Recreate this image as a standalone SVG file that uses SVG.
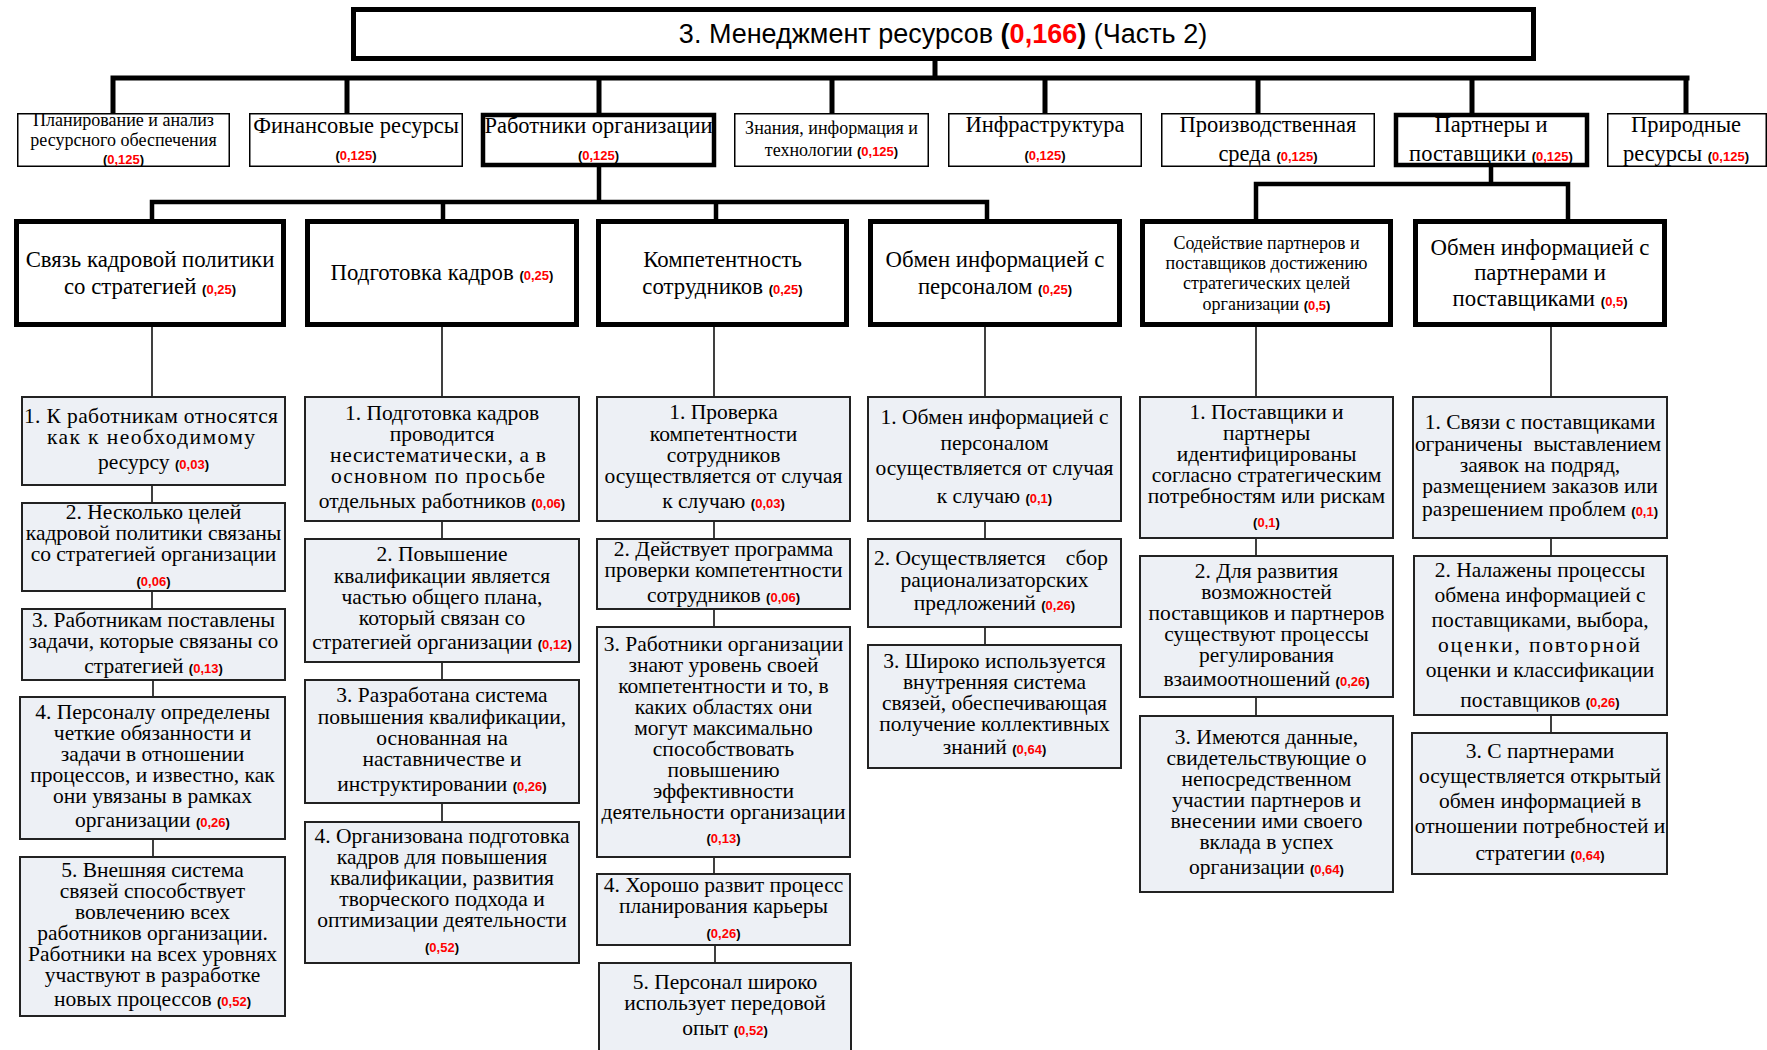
<svg xmlns="http://www.w3.org/2000/svg" width="1767" height="1050" viewBox="0 0 1767 1050">
<style>
.bg{fill:#fff}
.tb{fill:#fff;stroke:#000;stroke-width:5}
.b2{fill:#fff;stroke:#000;stroke-width:1.5}
.b2t{fill:#fff;stroke:#000;stroke-width:4.5}
.b3{fill:#fff;stroke:#000;stroke-width:5}
.b4{fill:#edf0f5;stroke:#222;stroke-width:2}
.ck{stroke:#000;stroke-width:5;fill:none;stroke-linecap:square}
.cm{stroke:#000;stroke-width:4.5;fill:none;stroke-linecap:square}
.cs{stroke:#111;stroke-width:1.6;fill:none}
text{font-family:"Liberation Serif","Times New Roman",serif;fill:#000;text-anchor:middle}
.title{font-family:"Liberation Sans",Arial,sans-serif;font-size:27px}
.t2{font-size:22.5px}
.t2s{font-size:18px}
.t2m{font-size:18px}
.t3{font-size:22.8px}
.t3s{font-size:18px}
.t4{font-size:21.5px}
.n{font-family:"Liberation Sans",Arial,sans-serif;font-weight:bold;font-size:13px;fill:#000}
.r{fill:#ff0000}
.nt{font-family:"Liberation Sans",Arial,sans-serif;font-weight:bold;fill:#000}
</style>
<rect class="bg" x="0" y="0" width="1767" height="1050"/>

<g id="connectors">
  <path class="ck" d="M935 59 V78 M113 78 H1687 M113 78 V113 M347 78 V113 M599 78 V113 M832 78 V113 M1045 78 V113 M1258 78 V113 M1472 78 V113 M1686 78 V113"/>
  <path class="cm" d="M599 167 V202 M152 202 H987 M152 202 V219 M443 202 V219 M716 202 V219 M987 202 V219"/>
  <path class="cm" d="M1491 167 V184 M1256 184 H1568 M1256 184 V219 M1568 184 V219"/>
  <path class="cs" d="M152 327 V397 M152 485 V503 M152 591 V609 M153 680 V697 M153 839 V857"/>
  <path class="cs" d="M442 327 V397 M442 521 V539 M442 662 V680 M442 803 V822"/>
  <path class="cs" d="M714 327 V397 M714 521 V539 M714 609 V627 M714 857 V874 M715 945 V963"/>
  <path class="cs" d="M985 327 V397 M985 521 V539 M985 627 V645"/>
  <path class="cs" d="M1256 327 V397 M1256 538 V556 M1256 697 V716"/>
  <path class="cs" d="M1551 327 V397 M1551 538 V556 M1551 715 V733"/>
</g>

<g id="title">
  <rect class="tb" x="353.5" y="9.5" width="1180" height="49"/>
  <text class="title" x="943" y="43">3. Менеджмент ресурсов <tspan class="nt">(<tspan class="r">0,166</tspan>)</tspan> (Часть 2)</text>
</g>

<!-- Level 2 -->
<g id="l2-planning">
  <rect class="b2" x="17.75" y="113.75" width="211.5" height="52.5"/>
  <text class="t2s" x="123.5" y="126">Планирование и анализ</text>
  <text class="t2s" x="123.5" y="146">ресурсного обеспечения</text>
  <text class="n" x="123.5" y="164">(<tspan class="r">0,125</tspan>)</text>
</g>
<g id="l2-finance">
  <rect class="b2" x="249.75" y="113.75" width="212.5" height="52.5"/>
  <text class="t2" x="356" y="133">Финансовые ресурсы</text>
  <text class="n" x="356" y="160">(<tspan class="r">0,125</tspan>)</text>
</g>
<g id="l2-workers">
  <rect class="b2t" x="483" y="115" width="231" height="50"/>
  <text class="t2" x="598.5" y="133">Работники организации</text>
  <text class="n" x="598.5" y="160">(<tspan class="r">0,125</tspan>)</text>
</g>
<g id="l2-knowledge">
  <rect class="b2" x="734.75" y="113.75" width="193.5" height="52.5"/>
  <text class="t2m" x="831.5" y="134">Знания, информация и</text>
  <text class="t2m" x="831.5" y="156">технологии <tspan class="n">(<tspan class="r">0,125</tspan>)</tspan></text>
</g>
<g id="l2-infra">
  <rect class="b2" x="948.75" y="113.75" width="192.5" height="52.5"/>
  <text class="t2" x="1045" y="132">Инфраструктура</text>
  <text class="n" x="1045" y="160">(<tspan class="r">0,125</tspan>)</text>
</g>
<g id="l2-production">
  <rect class="b2" x="1161.75" y="113.75" width="212.5" height="52.5"/>
  <text class="t2" x="1268" y="132">Производственная</text>
  <text class="t2" x="1268" y="161">среда <tspan class="n">(<tspan class="r">0,125</tspan>)</tspan></text>
</g>
<g id="l2-partners">
  <rect class="b2t" x="1396" y="115" width="191" height="50"/>
  <text class="t2" x="1491" y="132">Партнеры и</text>
  <text class="t2" x="1491" y="161">поставщики <tspan class="n">(<tspan class="r">0,125</tspan>)</tspan></text>
</g>
<g id="l2-nature">
  <rect class="b2" x="1607.75" y="113.75" width="158.5" height="52.5"/>
  <text class="t2" x="1686" y="132">Природные</text>
  <text class="t2" x="1686" y="161">ресурсы <tspan class="n">(<tspan class="r">0,125</tspan>)</tspan></text>
</g>

<!-- Level 3 -->
<g id="l3-policy">
  <rect class="b3" x="16.5" y="221.5" width="267" height="103"/>
  <text class="t3" x="150" y="267">Связь кадровой политики</text>
  <text class="t3" x="150" y="294">со стратегией <tspan class="n">(<tspan class="r">0,25</tspan>)</tspan></text>
</g>
<g id="l3-training">
  <rect class="b3" x="307.5" y="221.5" width="269" height="103"/>
  <text class="t3" x="442" y="280">Подготовка кадров <tspan class="n">(<tspan class="r">0,25</tspan>)</tspan></text>
</g>
<g id="l3-competence">
  <rect class="b3" x="598.5" y="221.5" width="248" height="103"/>
  <text class="t3" x="722.5" y="267">Компетентность</text>
  <text class="t3" x="722.5" y="294">сотрудников <tspan class="n">(<tspan class="r">0,25</tspan>)</tspan></text>
</g>
<g id="l3-staffinfo">
  <rect class="b3" x="870.5" y="221.5" width="249" height="103"/>
  <text class="t3" x="995" y="267">Обмен информацией с</text>
  <text class="t3" x="995" y="294">персоналом <tspan class="n">(<tspan class="r">0,25</tspan>)</tspan></text>
</g>
<g id="l3-partnerassist">
  <rect class="b3" x="1142.5" y="221.5" width="248" height="103"/>
  <text class="t3s" x="1266.5" y="249">Содействие партнеров и</text>
  <text class="t3s" x="1266.5" y="269">поставщиков достижению</text>
  <text class="t3s" x="1266.5" y="289">стратегических целей</text>
  <text class="t3s" x="1266.5" y="310">организации <tspan class="n">(<tspan class="r">0,5</tspan>)</tspan></text>
</g>
<g id="l3-partnerinfo">
  <rect class="b3" x="1415.5" y="221.5" width="249" height="103"/>
  <text class="t3" x="1540" y="255">Обмен информацией с</text>
  <text class="t3" x="1540" y="280">партнерами и</text>
  <text class="t3" x="1540" y="306">поставщиками <tspan class="n">(<tspan class="r">0,5</tspan>)</tspan></text>
</g>

<!-- Column A -->
<g id="a1">
  <rect class="b4" x="22" y="397" width="263" height="88"/>
  <text class="t4" x="151" y="423" textLength="254">1. К работникам относятся</text>
  <text class="t4" x="151" y="444" textLength="208">как к необходимому</text>
  <text class="t4" x="153.5" y="469">ресурсу <tspan class="n">(<tspan class="r">0,03</tspan>)</tspan></text>
</g>
<g id="a2">
  <rect class="b4" x="22" y="503" width="263" height="88"/>
  <text class="t4" x="153.5" y="519">2. Несколько целей</text>
  <text class="t4" x="153.5" y="540">кадровой политики связаны</text>
  <text class="t4" x="153.5" y="561">со стратегией организации</text>
  <text class="n" x="153.5" y="586">(<tspan class="r">0,06</tspan>)</text>
</g>
<g id="a3">
  <rect class="b4" x="22" y="609" width="263" height="71"/>
  <text class="t4" x="153.5" y="627">3. Работникам поставлены</text>
  <text class="t4" x="153.5" y="648">задачи, которые связаны со</text>
  <text class="t4" x="153.5" y="673">стратегией <tspan class="n">(<tspan class="r">0,13</tspan>)</tspan></text>
</g>
<g id="a4">
  <rect class="b4" x="20" y="697" width="265" height="142"/>
  <text class="t4" x="152.5" y="719">4. Персоналу определены</text>
  <text class="t4" x="152.5" y="740">четкие обязанности и</text>
  <text class="t4" x="152.5" y="761">задачи в отношении</text>
  <text class="t4" x="152.5" y="782">процессов, и известно, как</text>
  <text class="t4" x="152.5" y="803">они увязаны в рамках</text>
  <text class="t4" x="152.5" y="827">организации <tspan class="n">(<tspan class="r">0,26</tspan>)</tspan></text>
</g>
<g id="a5">
  <rect class="b4" x="20" y="857" width="265" height="159"/>
  <text class="t4" x="152.5" y="877">5. Внешняя система</text>
  <text class="t4" x="152.5" y="898">связей способствует</text>
  <text class="t4" x="152.5" y="919">вовлечению всех</text>
  <text class="t4" x="152.5" y="940">работников организации.</text>
  <text class="t4" x="152.5" y="961">Работники на всех уровнях</text>
  <text class="t4" x="152.5" y="982">участвуют в разработке</text>
  <text class="t4" x="152.5" y="1006">новых процессов <tspan class="n">(<tspan class="r">0,52</tspan>)</tspan></text>
</g>

<!-- Column B -->
<g id="b1">
  <rect class="b4" x="305" y="397" width="274" height="124"/>
  <text class="t4" x="442" y="420">1. Подготовка кадров</text>
  <text class="t4" x="442" y="441">проводится</text>
  <text class="t4" x="438" y="462" textLength="216">несистематически, а в</text>
  <text class="t4" x="438" y="483" textLength="214">основном по просьбе</text>
  <text class="t4" x="442" y="508">отдельных работников <tspan class="n">(<tspan class="r">0,06</tspan>)</tspan></text>
</g>
<g id="b2">
  <rect class="b4" x="305" y="539" width="274" height="123"/>
  <text class="t4" x="442" y="561">2. Повышение</text>
  <text class="t4" x="442" y="583">квалификации является</text>
  <text class="t4" x="442" y="604">частью общего плана,</text>
  <text class="t4" x="442" y="625">который связан со</text>
  <text class="t4" x="442" y="649">стратегией организации <tspan class="n">(<tspan class="r">0,12</tspan>)</tspan></text>
</g>
<g id="b3">
  <rect class="b4" x="305" y="680" width="274" height="123"/>
  <text class="t4" x="442" y="702">3. Разработана система</text>
  <text class="t4" x="442" y="724">повышения квалификации,</text>
  <text class="t4" x="442" y="745">основанная на</text>
  <text class="t4" x="442" y="766">наставничестве и</text>
  <text class="t4" x="442" y="791">инструктировании <tspan class="n">(<tspan class="r">0,26</tspan>)</tspan></text>
</g>
<g id="b4">
  <rect class="b4" x="305" y="822" width="274" height="141"/>
  <text class="t4" x="442" y="843">4. Организована подготовка</text>
  <text class="t4" x="442" y="864">кадров для повышения</text>
  <text class="t4" x="442" y="885">квалификации, развития</text>
  <text class="t4" x="442" y="906">творческого подхода и</text>
  <text class="t4" x="442" y="927">оптимизации деятельности</text>
  <text class="n" x="442" y="952">(<tspan class="r">0,52</tspan>)</text>
</g>

<!-- Column C -->
<g id="c1">
  <rect class="b4" x="597" y="397" width="253" height="124"/>
  <text class="t4" x="723.5" y="419">1. Проверка</text>
  <text class="t4" x="723.5" y="441">компетентности</text>
  <text class="t4" x="723.5" y="462">сотрудников</text>
  <text class="t4" x="723.5" y="483">осуществляется от случая</text>
  <text class="t4" x="723.5" y="508">к случаю <tspan class="n">(<tspan class="r">0,03</tspan>)</tspan></text>
</g>
<g id="c2">
  <rect class="b4" x="597" y="539" width="253" height="70"/>
  <text class="t4" x="723.5" y="556">2. Действует программа</text>
  <text class="t4" x="723.5" y="577">проверки компетентности</text>
  <text class="t4" x="723.5" y="602">сотрудников <tspan class="n">(<tspan class="r">0,06</tspan>)</tspan></text>
</g>
<g id="c3">
  <rect class="b4" x="597" y="627" width="253" height="230"/>
  <text class="t4" x="723.5" y="651">3. Работники организации</text>
  <text class="t4" x="723.5" y="672">знают уровень своей</text>
  <text class="t4" x="723.5" y="693">компетентности и то, в</text>
  <text class="t4" x="723.5" y="714">каких областях они</text>
  <text class="t4" x="723.5" y="735">могут максимально</text>
  <text class="t4" x="723.5" y="756">способствовать</text>
  <text class="t4" x="723.5" y="777">повышению</text>
  <text class="t4" x="723.5" y="798">эффективности</text>
  <text class="t4" x="723.5" y="819">деятельности организации</text>
  <text class="n" x="723.5" y="843">(<tspan class="r">0,13</tspan>)</text>
</g>
<g id="c4">
  <rect class="b4" x="597" y="874" width="253" height="71"/>
  <text class="t4" x="723.5" y="892">4. Хорошо развит процесс</text>
  <text class="t4" x="723.5" y="913">планирования карьеры</text>
  <text class="n" x="723.5" y="938">(<tspan class="r">0,26</tspan>)</text>
</g>
<g id="c5">
  <rect class="b4" x="599" y="963" width="252" height="100"/>
  <text class="t4" x="725" y="989">5. Персонал широко</text>
  <text class="t4" x="725" y="1010">использует передовой</text>
  <text class="t4" x="725" y="1035">опыт <tspan class="n">(<tspan class="r">0,52</tspan>)</tspan></text>
</g>

<!-- Column D -->
<g id="d1">
  <rect class="b4" x="868" y="397" width="253" height="124"/>
  <text class="t4" x="994.5" y="424">1. Обмен информацией с</text>
  <text class="t4" x="994.5" y="450">персоналом</text>
  <text class="t4" x="994.5" y="475">осуществляется от случая</text>
  <text class="t4" x="994.5" y="503">к случаю <tspan class="n">(<tspan class="r">0,1</tspan>)</tspan></text>
</g>
<g id="d2">
  <rect class="b4" x="868" y="539" width="253" height="88"/>
  <text class="t4" x="874" y="565" style="text-anchor:start">2. Осуществляется<tspan x="1108" style="text-anchor:end"> сбор</tspan></text>
  <text class="t4" x="994.5" y="587">рационализаторских</text>
  <text class="t4" x="994.5" y="610">предложений <tspan class="n">(<tspan class="r">0,26</tspan>)</tspan></text>
</g>
<g id="d3">
  <rect class="b4" x="868" y="645" width="253" height="123"/>
  <text class="t4" x="994.5" y="668">3. Широко используется</text>
  <text class="t4" x="994.5" y="689">внутренняя система</text>
  <text class="t4" x="994.5" y="710">связей, обеспечивающая</text>
  <text class="t4" x="994.5" y="731">получение коллективных</text>
  <text class="t4" x="994.5" y="754">знаний <tspan class="n">(<tspan class="r">0,64</tspan>)</tspan></text>
</g>

<!-- Column E -->
<g id="e1">
  <rect class="b4" x="1140" y="397" width="253" height="141"/>
  <text class="t4" x="1266.5" y="419">1. Поставщики и</text>
  <text class="t4" x="1266.5" y="440">партнеры</text>
  <text class="t4" x="1266.5" y="461">идентифицированы</text>
  <text class="t4" x="1266.5" y="482">согласно стратегическим</text>
  <text class="t4" x="1266.5" y="503">потребностям или рискам</text>
  <text class="n" x="1266.5" y="527">(<tspan class="r">0,1</tspan>)</text>
</g>
<g id="e2">
  <rect class="b4" x="1140" y="556" width="253" height="141"/>
  <text class="t4" x="1266.5" y="578">2. Для развития</text>
  <text class="t4" x="1266.5" y="599">возможностей</text>
  <text class="t4" x="1266.5" y="620">поставщиков и партнеров</text>
  <text class="t4" x="1266.5" y="641">существуют процессы</text>
  <text class="t4" x="1266.5" y="662">регулирования</text>
  <text class="t4" x="1266.5" y="686">взаимоотношений <tspan class="n">(<tspan class="r">0,26</tspan>)</tspan></text>
</g>
<g id="e3">
  <rect class="b4" x="1140" y="716" width="253" height="176"/>
  <text class="t4" x="1266.5" y="744">3. Имеются данные,</text>
  <text class="t4" x="1266.5" y="765">свидетельствующие о</text>
  <text class="t4" x="1266.5" y="786">непосредственном</text>
  <text class="t4" x="1266.5" y="807">участии партнеров и</text>
  <text class="t4" x="1266.5" y="828">внесении ими своего</text>
  <text class="t4" x="1266.5" y="849">вклада в успех</text>
  <text class="t4" x="1266.5" y="874">организации <tspan class="n">(<tspan class="r">0,64</tspan>)</tspan></text>
</g>

<!-- Column F -->
<g id="f1">
  <rect class="b4" x="1413" y="397" width="254" height="141"/>
  <text class="t4" x="1540" y="429">1. Связи с поставщиками</text>
  <text class="t4" x="1538" y="451" textLength="246" word-spacing="6">ограничены выставлением</text>
  <text class="t4" x="1540" y="472">заявок на подряд,</text>
  <text class="t4" x="1540" y="493">размещением заказов или</text>
  <text class="t4" x="1540" y="516">разрешением проблем <tspan class="n">(<tspan class="r">0,1</tspan>)</tspan></text>
</g>
<g id="f2">
  <rect class="b4" x="1414" y="556" width="253" height="159"/>
  <text class="t4" x="1540" y="577">2. Налажены процессы</text>
  <text class="t4" x="1540" y="602">обмена информацией с</text>
  <text class="t4" x="1540" y="627">поставщиками, выбора,</text>
  <text class="t4" x="1539" y="652" textLength="202">оценки, повторной</text>
  <text class="t4" x="1540" y="677">оценки и классификации</text>
  <text class="t4" x="1540" y="707">поставщиков <tspan class="n">(<tspan class="r">0,26</tspan>)</tspan></text>
</g>
<g id="f3">
  <rect class="b4" x="1412" y="733" width="255" height="141"/>
  <text class="t4" x="1540" y="758">3. С партнерами</text>
  <text class="t4" x="1540" y="783">осуществляется открытый</text>
  <text class="t4" x="1540" y="808">обмен информацией в</text>
  <text class="t4" x="1540" y="833">отношении потребностей и</text>
  <text class="t4" x="1540" y="860">стратегии <tspan class="n">(<tspan class="r">0,64</tspan>)</tspan></text>
</g>
</svg>
